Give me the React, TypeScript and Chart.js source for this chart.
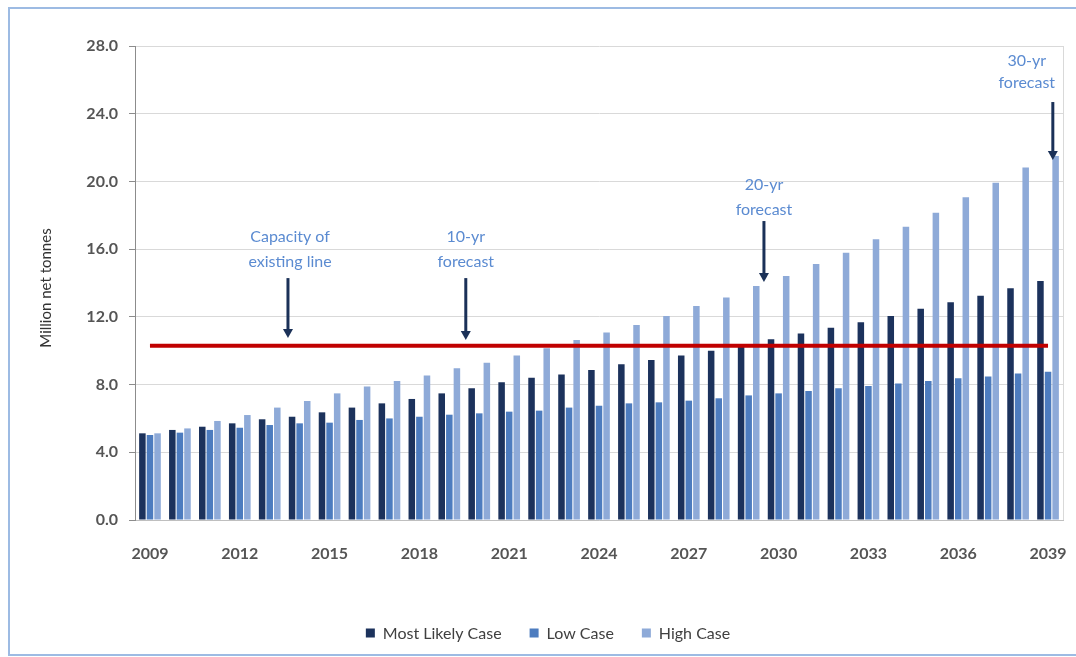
import React, { useEffect, useRef } from "react";
import { Chart, registerables } from "chart.js";

Chart.register(...registerables);

// ---------- data ----------
const years = [
  "2009", "2010", "2011", "2012", "2013", "2014", "2015", "2016", "2017", "2018",
  "2019", "2020", "2021", "2022", "2023", "2024", "2025", "2026", "2027", "2028",
  "2029", "2030", "2031", "2032", "2033", "2034", "2035", "2036", "2037", "2038", "2039",
];

const mostLikely = [
  5.12, 5.32, 5.51, 5.71, 5.95, 6.1, 6.36, 6.64, 6.89, 7.15,
  7.48, 7.78, 8.13, 8.41, 8.6, 8.86, 9.2, 9.45, 9.71, 10.0,
  10.35, 10.67, 11.02, 11.36, 11.68, 12.05, 12.48, 12.86, 13.25, 13.69, 14.12,
];

const lowCase = [
  5.02, 5.16, 5.32, 5.45, 5.61, 5.71, 5.75, 5.91, 6.0, 6.1,
  6.22, 6.3, 6.4, 6.46, 6.64, 6.75, 6.89, 6.95, 7.05, 7.19,
  7.36, 7.48, 7.62, 7.78, 7.91, 8.07, 8.21, 8.37, 8.47, 8.66, 8.76,
];

const highCase = [
  5.12, 5.41, 5.85, 6.2, 6.64, 7.03, 7.48, 7.88, 8.21, 8.53,
  8.96, 9.29, 9.71, 10.14, 10.63, 11.08, 11.52, 12.05, 12.64, 13.15,
  13.82, 14.41, 15.12, 15.79, 16.58, 17.33, 18.15, 19.06, 19.92, 20.83, 21.5,
];

const capacity = [
  10.3, 10.3, 10.3, 10.3, 10.3, 10.3, 10.3, 10.3, 10.3, 10.3,
  10.3, 10.3, 10.3, 10.3, 10.3, 10.3, 10.3, 10.3, 10.3, 10.3,
  10.3, 10.3, 10.3, 10.3, 10.3, 10.3, 10.3, 10.3, 10.3, 10.3, 10.3,
];

const seriesNames = ["Most Likely Case", "Low Case", "High Case"];
const yAxisTitle = "Million net tonnes";

// annotation text + arrows, in data units (category index, value)
const annotations = [
  { lines: ["Capacity of", "existing line"], textX: 4.68, textY: [16.72, 15.24], arrowX: 4.61, arrowFrom: 14.29, arrowTo: 10.75 },
  { lines: ["10-yr", "forecast"], textX: 10.55, textY: [16.72, 15.24], arrowX: 10.55, arrowFrom: 14.29, arrowTo: 10.63 },
  { lines: ["20-yr", "forecast"], textX: 20.51, textY: [19.79, 18.31], arrowX: 20.51, arrowFrom: 17.66, arrowTo: 14.06 },
  { lines: ["30-yr", "forecast"], textX: 29.29, textY: [27.11, 25.81], arrowX: 30.16, arrowFrom: 24.69, arrowTo: 21.26 },
];

// ---------- styles ----------
const COLORS = {
  dark: "#1c325c",
  low: "#4d7cbf",
  high: "#8eaad8",
  red: "#c00000",
  annText: "#5b8bd1",
  arrow: "#1b3158",
  axisText: "#555555",
  legendText: "#404040",
  grid: "#d9d9d9",
  axis: "#8c8c8c",
  frame: "#9dbbe3",
};
const FONT_FAMILY = "Lato, 'Open Sans', sans-serif";

const decorPlugin = {
  id: "decor",
  afterDatasetsDraw(chart: any) {
    const { ctx, scales, chartArea } = chart;
    const xs = scales.x;
    const ys = scales.y;
    ctx.save();

    // outer frame
    ctx.strokeStyle = COLORS.frame;
    ctx.lineWidth = 2;
    ctx.strokeRect(9, 8, 1100, 647);

    // plot area right border
    ctx.strokeStyle = COLORS.grid;
    ctx.lineWidth = 1;
    ctx.beginPath();
    ctx.moveTo(chartArea.right + 0.5, chartArea.top);
    ctx.lineTo(chartArea.right + 0.5, chartArea.bottom);
    ctx.stroke();

    // annotations
    ctx.font = `16px ${FONT_FAMILY}`;
    ctx.textAlign = "center";
    ctx.textBaseline = "middle";
    for (const a of annotations) {
      ctx.fillStyle = COLORS.annText;
      const tx = xs.getPixelForValue(a.textX);
      a.lines.forEach((line, i) => {
        ctx.fillText(line, tx, ys.getPixelForValue(a.textY[i]));
      });
      const ax = xs.getPixelForValue(a.arrowX);
      const y0 = ys.getPixelForValue(a.arrowFrom);
      const y1 = ys.getPixelForValue(a.arrowTo);
      ctx.strokeStyle = COLORS.arrow;
      ctx.fillStyle = COLORS.arrow;
      ctx.lineWidth = 3;
      ctx.beginPath();
      ctx.moveTo(ax, y0);
      ctx.lineTo(ax, y1 - 8);
      ctx.stroke();
      ctx.beginPath();
      ctx.moveTo(ax - 5, y1 - 9);
      ctx.lineTo(ax + 5, y1 - 9);
      ctx.lineTo(ax, y1);
      ctx.closePath();
      ctx.fill();
    }

    // y-axis title
    ctx.save();
    ctx.translate(46, 288);
    ctx.rotate(-Math.PI / 2);
    ctx.font = `15px ${FONT_FAMILY}`;
    ctx.fillStyle = "#333333";
    ctx.textAlign = "center";
    ctx.textBaseline = "middle";
    ctx.fillText(yAxisTitle, 0, 0);
    ctx.restore();

    // legend
    const legendColors = [COLORS.dark, COLORS.low, COLORS.high];
    ctx.font = `16px ${FONT_FAMILY}`;
    const box = 9;
    const gapBox = 8;
    const gapItem = 28;
    const widths = seriesNames.map((n) => ctx.measureText(n).width);
    const total = widths.reduce((s, w) => s + box + gapBox + w, 0) + gapItem * (seriesNames.length - 1);
    let lx = 548 - total / 2;
    const ly = 633;
    ctx.textAlign = "left";
    ctx.textBaseline = "middle";
    seriesNames.forEach((n, i) => {
      ctx.fillStyle = legendColors[i];
      ctx.fillRect(lx, ly - box / 2, box, box);
      ctx.fillStyle = COLORS.legendText;
      ctx.fillText(n, lx + box + gapBox, ly + 1);
      lx += box + gapBox + widths[i] + gapItem;
    });

    ctx.restore();
  },
};

export default function App() {
  const ref = useRef<HTMLCanvasElement>(null);

  useEffect(() => {
    const canvas = ref.current;
    if (!canvas) return;
    const tickFont = { family: FONT_FAMILY, size: 16, weight: "bold" as const };
    const chart = new Chart(canvas, {
      type: "bar",
      data: {
        labels: years,
        datasets: [
          {
            type: "line" as const,
            label: "Capacity of existing line",
            data: capacity,
            borderColor: COLORS.red,
            borderWidth: 4,
            pointRadius: 0,
            fill: false,
            order: 0,
          },
          { type: "bar" as const, label: seriesNames[0], data: mostLikely, backgroundColor: COLORS.dark, order: 1 },
          { type: "bar" as const, label: seriesNames[1], data: lowCase, backgroundColor: COLORS.low, order: 1 },
          { type: "bar" as const, label: seriesNames[2], data: highCase, backgroundColor: COLORS.high, order: 1 },
        ],
      },
      options: {
        responsive: false,
        animation: false,
        layout: { padding: { left: 0, right: 13, top: 46, bottom: 97 } },
        plugins: { legend: { display: false }, tooltip: { enabled: false } },
        datasets: { bar: { categoryPercentage: 0.76, barPercentage: 0.86 } },
        scales: {
          x: {
            grid: { display: false, drawTicks: false },
            border: { display: true, color: "#bfbfbf" },
            ticks: {
              autoSkip: false,
              maxRotation: 0,
              minRotation: 0,
              padding: 24,
              color: COLORS.axisText,
              font: tickFont,
              callback: (_v: any, i: number) => (i % 3 === 0 ? years[i] : ""),
            },
            afterFit: (s: any) => {
              s.height = 40;
              s.paddingLeft = 0;
              s.paddingRight = 0;
            },
          },
          y: {
            min: 0,
            max: 28,
            ticks: {
              stepSize: 4,
              padding: 11,
              color: COLORS.axisText,
              font: tickFont,
              callback: (v: any) => Number(v).toFixed(1),
            },
            grid: { color: COLORS.grid, tickColor: COLORS.axis, tickLength: 6 },
            border: { display: true, color: COLORS.axis },
            afterFit: (s: any) => {
              s.width = 135;
            },
          },
        },
      },
      plugins: [decorPlugin],
    });
    return () => chart.destroy();
  }, []);

  return (
    <div style={{ position: "fixed", left: 0, top: 0, width: 1076, height: 657, background: "#fff" }}>
      <canvas ref={ref} width={1076} height={657} style={{ display: "block" }} />
    </div>
  );
}
